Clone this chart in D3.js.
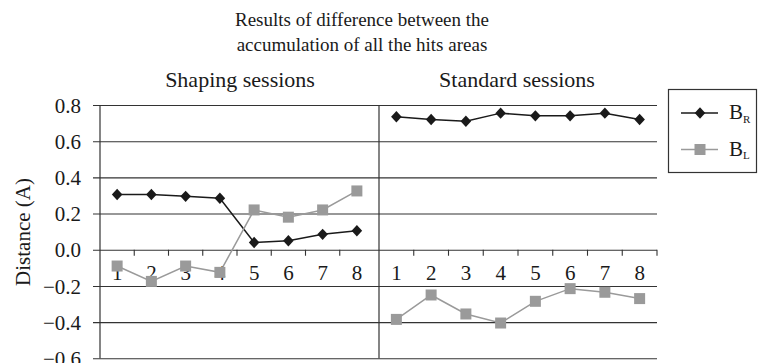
<!DOCTYPE html>
<html>
<head>
<meta charset="utf-8">
<script src="https://cdn.jsdelivr.net/npm/d3@7"></script>
<style>
  html, body { margin: 0; padding: 0; background: #fff; }
  svg { display: block; }
</style>
</head>
<body>
<svg id="chart" width="758" height="363"></svg>
<script>
// Sessions and measured distances
const sessions = [1, 2, 3, 4, 5, 6, 7, 8];
const shapingBR = [0.305, 0.305, 0.295, 0.285, 0.04, 0.05, 0.085, 0.105];
const shapingBL = [-0.09, -0.175, -0.09, -0.125, 0.22, 0.18, 0.22, 0.325];
const standardBR = [0.735, 0.72, 0.71, 0.755, 0.74, 0.74, 0.755, 0.72];
const standardBL = [-0.385, -0.25, -0.355, -0.405, -0.285, -0.215, -0.235, -0.27];
const yTicks = [0.8, 0.6, 0.4, 0.2, 0.0, -0.2, -0.4, -0.6];
const titleLines = ["Results of difference between the", "accumulation of all the hits areas"];
const panelTitles = ["Shaping sessions", "Standard sessions"];

const FONT = '"Liberation Serif"';
const svg = d3.select("#chart");
const black = "#1a1a1a";
const grey = "#9a9a9a";

// Every label uses the same serif face
function serif(sel) { return sel.style("font-family", FONT); }

const y = d3.scaleLinear().domain([-0.6, 0.8]).range([358.3, 105]);
const xLeft = d3.scaleBand().domain(sessions).range([100, 374]);
const xRight = d3.scaleBand().domain(sessions).range([379, 657]);
const plotLeft = 100, plotRight = 657, divider = 379;

// Titles
serif(svg.selectAll("text.title").data(titleLines).enter().append("text")
  .attr("class", "title")
  .attr("x", 362).attr("y", (d, i) => 26 + i * 25)
  .attr("text-anchor", "middle").attr("font-size", 19).attr("fill", black))
  .text(d => d);

serif(svg.selectAll("text.panel").data(panelTitles).enter().append("text")
  .attr("class", "panel")
  .attr("x", (d, i) => i === 0 ? 240 : 517).attr("y", 87)
  .attr("text-anchor", "middle").attr("font-size", 22).attr("fill", black))
  .text(d => d);

// Horizontal gridlines with left tick stubs
const yAxis = d3.axisLeft(y).tickValues(yTicks)
  .tickSize(-(plotRight - plotLeft)).tickSizeOuter(0)
  .tickFormat(d => d3.format(".1f")(d).replace("-", "\u2212"));
const gy = svg.append("g").attr("transform", `translate(${plotLeft},0)`).call(yAxis);
gy.attr("font-family", null);
gy.select(".domain").remove();
gy.selectAll(".tick line").attr("x1", -7).attr("stroke", "#333").attr("stroke-width", 1.1);
serif(gy.selectAll(".tick text").attr("x", -19).attr("dy", "0.34em")
  .attr("font-size", 21).attr("fill", black));

// Vertical axis and panel divider
svg.append("line").attr("x1", plotLeft).attr("x2", plotLeft)
  .attr("y1", y(0.8)).attr("y2", y(-0.6)).attr("stroke", "#333").attr("stroke-width", 1.2);
svg.append("line").attr("x1", divider).attr("x2", divider)
  .attr("y1", y(0.8)).attr("y2", y(-0.6)).attr("stroke", "#333").attr("stroke-width", 1.2);

// Category ticks along the zero line
const leftTicks = sessions.slice(0, 7).map(s => xLeft(s) + xLeft.bandwidth());
const rightTicks = sessions.map(s => xRight(s) + xRight.bandwidth());
svg.selectAll("line.ctick").data(leftTicks.concat(rightTicks)).enter().append("line")
  .attr("class", "ctick")
  .attr("x1", d => d).attr("x2", d => d)
  .attr("y1", y(0)).attr("y2", y(0) + 6)
  .attr("stroke", "#333").attr("stroke-width", 1.1);

// Category labels
function catLabels(xs, cls) {
  serif(svg.selectAll("text." + cls).data(sessions).enter().append("text")
    .attr("class", cls)
    .attr("x", d => xs(d) + xs.bandwidth() / 2).attr("y", 280)
    .attr("text-anchor", "middle").attr("font-size", 21).attr("fill", black))
    .text(d => d);
}
catLabels(xLeft, "catL");
catLabels(xRight, "catR");

// Series
const diamond = d3.symbol().type(d3.symbolSquare).size(56);
const diamondTf = (cx, cy) => `translate(${cx},${cy}) scale(1,1.08) rotate(45)`;
function drawSeries(xs, values, color, kind) {
  const pts = sessions.map((s, i) => [xs(s) + xs.bandwidth() / 2, y(values[i])]);
  svg.append("path").attr("d", d3.line()(pts))
    .attr("fill", "none").attr("stroke", color).attr("stroke-width", 1.5);
  if (kind === "diamond") {
    svg.selectAll(null).data(pts).enter().append("path")
      .attr("d", diamond).attr("transform", d => diamondTf(d[0], d[1]))
      .attr("fill", color);
  } else {
    const s = 11;
    svg.selectAll(null).data(pts).enter().append("rect")
      .attr("x", d => d[0] - s / 2).attr("y", d => d[1] - s / 2)
      .attr("width", s).attr("height", s).attr("fill", color);
  }
}
drawSeries(xLeft, shapingBR, black, "diamond");
drawSeries(xLeft, shapingBL, grey, "square");
drawSeries(xRight, standardBR, black, "diamond");
drawSeries(xRight, standardBL, grey, "square");

// Y-axis title
serif(svg.append("text")
  .attr("transform", "translate(30,232) rotate(-90)")
  .attr("text-anchor", "middle").attr("font-size", 21).attr("fill", black))
  .text("Distance (A)");

// Legend
const lg = svg.append("g");
lg.append("rect").attr("x", 668.5).attr("y", 89.5).attr("width", 88).attr("height", 83)
  .attr("fill", "#fff").attr("stroke", "#333").attr("stroke-width", 1.2);
const legendItems = [
  { name: "R", color: black, kind: "diamond", yy: 113 },
  { name: "L", color: grey, kind: "square", yy: 149.5 }
];
legendItems.forEach(it => {
  lg.append("line").attr("x1", 681).attr("x2", 718).attr("y1", it.yy).attr("y2", it.yy)
    .attr("stroke", it.color).attr("stroke-width", 1.5);
  if (it.kind === "diamond") {
    lg.append("path").attr("d", diamond)
      .attr("transform", diamondTf(700, it.yy)).attr("fill", it.color);
  } else {
    lg.append("rect").attr("x", 694.5).attr("y", it.yy - 5.5).attr("width", 11).attr("height", 11)
      .attr("fill", it.color);
  }
  const t = serif(lg.append("text").attr("x", 729).attr("y", it.yy + 6).attr("font-size", 21)
    .attr("fill", black));
  t.append("tspan").text("B");
  t.append("tspan").attr("font-size", 11).attr("dy", 3.5).text(it.name);
});
</script>
</body>
</html>
